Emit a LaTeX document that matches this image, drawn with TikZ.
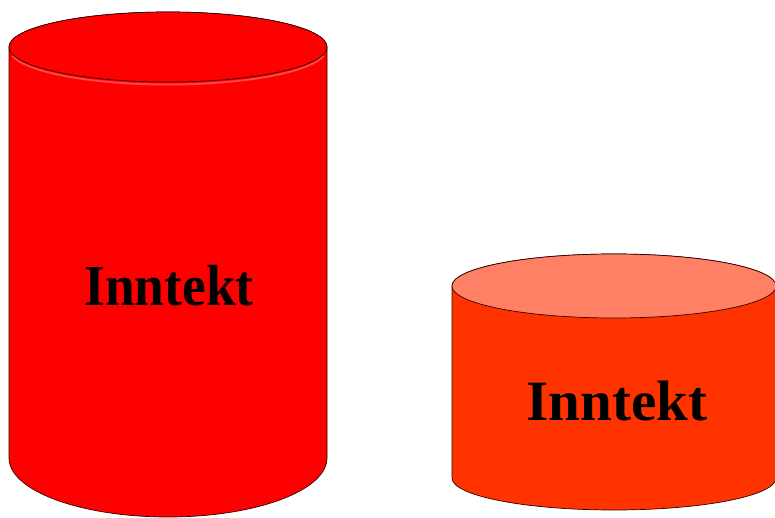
\documentclass[tikz,border=0pt]{standalone}
\usepackage{fontspec}
\setmainfont{Liberation Serif}
\definecolor{redbody}{RGB}{255,0,0}
\definecolor{redlight}{RGB}{255,70,70}
\definecolor{orbody}{RGB}{255,51,0}
\definecolor{ortop}{RGB}{255,128,100}
\definecolor{edge}{RGB}{50,0,0}
\tikzset{
  cylbody/.style={draw=edge, line width=0.7pt},
  label/.style={font=\bfseries, text=black, inner sep=0pt, anchor=base},
}
\begin{document}
\begin{tikzpicture}[x=1pt,y=1pt]
\useasboundingbox (0,0) rectangle (775,517);
\begin{scope}
\clip (0,0) rectangle (775,517);
% left cylinder
\path[cylbody, fill=redbody] (9,470) -- (9,59) arc[start angle=180,end angle=360,x radius=159,y radius=59] -- (327,470) arc[start angle=0,end angle=180,x radius=159,y radius=35] -- cycle;
\fill[redbody] (168,470) ellipse[x radius=159,y radius=35];
\draw[redlight, line width=2pt] (168,467.5) ++(190:158 and 35) arc[start angle=190,end angle=350,x radius=158,y radius=35];
\draw[cylbody] (168,470) ellipse[x radius=159,y radius=35];
% right cylinder
\path[cylbody, fill=orbody] (452,231) -- (452,39) arc[start angle=180,end angle=360,x radius=162,y radius=32] -- (776,231) arc[start angle=0,end angle=180,x radius=162,y radius=32] -- cycle;
\draw[cylbody, fill=ortop] (614,231) ellipse[x radius=162,y radius=32];
\end{scope}
\node[label, font=\fontsize{58}{60}\selectfont\bfseries, xscale=0.92] (t1) at (169,212) {Inntekt};
\node[label, font=\fontsize{57}{60}\selectfont\bfseries] (t2) at (617,97) {Inntekt};
\end{tikzpicture}
\end{document}
